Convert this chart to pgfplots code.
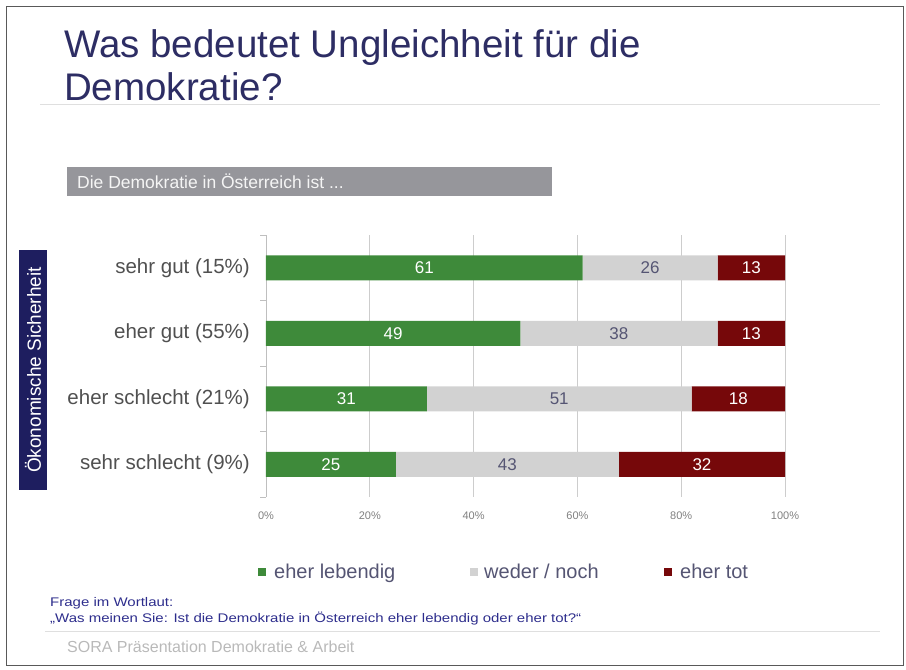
\documentclass[border=0pt]{standalone}
\usepackage{fontspec}
\setmainfont{Liberation Sans}
\usepackage{graphicx}
\usepackage{pgfplots}
\pgfplotsset{compat=1.18}
\definecolor{titleblue}{RGB}{45,45,100}
\definecolor{navybox}{RGB}{30,30,95}
\definecolor{boxgray}{RGB}{150,150,155}
\definecolor{barGreen}{RGB}{62,138,58}
\definecolor{barGray}{RGB}{210,210,210}
\definecolor{barRed}{RGB}{118,8,10}
\definecolor{labgray}{RGB}{80,80,80}
\definecolor{legtext}{RGB}{85,85,115}
\definecolor{foot}{RGB}{45,45,140}
\definecolor{gridc}{RGB}{205,205,205}
\begin{document}
\begin{tikzpicture}[x=1pt,y=1pt]
\useasboundingbox (0,0) rectangle (906,670);
\draw[gray!70!black, line width=1pt] (6,4) rectangle (903,663);
% title
\node[anchor=base west, text=titleblue, font=\fontsize{38.5}{44}\selectfont, inner sep=0pt] at (64,612) {Was bedeutet Ungleichheit für die};
\node[anchor=base west, text=titleblue, font=\fontsize{38.5}{44}\selectfont, inner sep=0pt] at (64,569) {Demokratie?};
\draw[gray!25, line width=1pt] (40,565) -- (880,565);
% grey header box
\fill[boxgray] (67,474) rectangle (552,503);
\node[anchor=west, text=white!92!gray, font=\fontsize{17.5}{20}\selectfont, inner sep=0pt] at (77,488.5) {Die Demokratie in Österreich ist ...};
% navy side box
\fill[navybox] (19,180) rectangle (47,420);
\node[rotate=90, text=white, font=\fontsize{19}{22}\selectfont, inner sep=0pt] at (33,300) {Ökonomische Sicherheit};
\begin{axis}[
  at={(266pt,173pt)}, anchor=south west, scale only axis,
  width=519pt, height=262pt,
  xbar stacked, bar width=25pt,
  xmin=0, xmax=100, ymin=-0.5, ymax=3.5, y dir=reverse,
  ytick={0,1,2,3},
  yticklabels={sehr gut (15\%), eher gut (55\%), eher schlecht (21\%), sehr schlecht (9\%)},
  minor ytick={-0.5,0.5,1.5,2.5,3.5},
  major tick length=0pt, minor tick length=6pt, tick align=outside,
  minor tick style={gray!50, line width=0.8pt},
  xtick={0,20,40,60,80,100},
  xticklabel={\pgfmathprintnumber{\tick}\%},
  /pgf/number format/assume math mode=true,
  xmajorgrids, grid style={gridc, line width=0.8pt},
  axis lines*=left, x axis line style={draw=none},
  y axis line style={gray!50, line width=0.8pt},
  yticklabel style={font=\fontsize{20.5}{24}\selectfont, text=labgray, anchor=east, inner sep=0pt, xshift=-16pt},
  xticklabel style={font=\fontsize{11}{13}\selectfont, text=gray, inner sep=0pt, yshift=-15pt},
  point meta=rawx,
  nodes near coords,
  every node near coord/.append style={anchor=center, font=\fontsize{17}{20}\selectfont},
  legend style={at={(axis description cs:-0.0154,-0.286)}, anchor=west, draw=none, fill=none, inner sep=0pt, legend columns=3, font=\fontsize{20}{24}\selectfont, text=legtext},
  legend image code/.code={\fill[#1] (0pt,-4pt) rectangle (8pt,4pt);},
]
\addplot[fill=barGreen, draw=none, every node near coord/.append style={text=white}] coordinates {(61,0) (49,1) (31,2) (25,3)};
\addplot[fill=barGray, draw=none, every node near coord/.append style={text=legtext}] coordinates {(26,0) (38,1) (51,2) (43,3)};
\addplot[fill=barRed, draw=none, every node near coord/.append style={text=white}] coordinates {(13,0) (13,1) (18,2) (32,3)};
\addlegendentry{\hspace{6pt}\makebox[194pt][l]{eher lebendig}}
\addlegendentry{\hspace{4pt}\makebox[178pt][l]{weder / noch}}
\addlegendentry{\hspace{6pt}eher tot}
\end{axis}
% footnote
\node[anchor=base west, inner sep=0pt, text=foot] at (50,63) {\scalebox{1.2}[1]{\fontsize{12.5}{14}\selectfont Frage im Wortlaut:}};
\node[anchor=base west, inner sep=0pt, text=foot] at (50,47) {\scalebox{1.2}[1]{\fontsize{12.5}{14}\selectfont „Was meinen Sie: Ist die Demokratie in Österreich eher lebendig oder eher tot?“}};
\draw[gray!25, line width=1pt] (45,38) -- (880,38);
\node[anchor=base west, inner sep=0pt, text=gray!55, font=\fontsize{16}{18}\selectfont] at (67,17) {SORA Präsentation Demokratie \& Arbeit};
\end{tikzpicture}
\end{document}
